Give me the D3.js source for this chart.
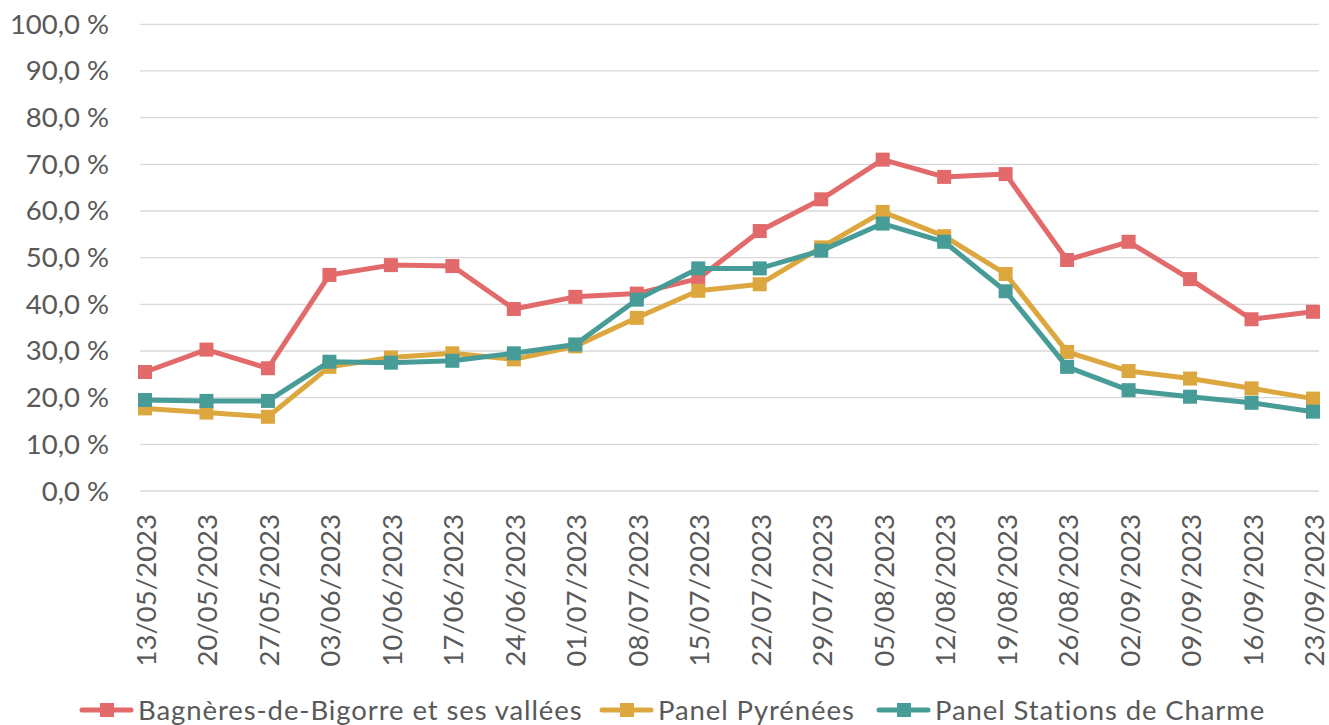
<!DOCTYPE html>
<html>
<head>
<meta charset="utf-8">
<script src="https://cdn.jsdelivr.net/npm/d3@7"></script>
<style>
  body { margin: 0; background: #fff; }
  text { font-family: Lato, "Open Sans", sans-serif; fill: #595959; }
</style>
</head>
<body>
<svg id="chart" width="1329" height="725"></svg>
<script>
// weekly dates (x categories)
const dates = ["13/05/2023","20/05/2023","27/05/2023","03/06/2023","10/06/2023","17/06/2023",
  "24/06/2023","01/07/2023","08/07/2023","15/07/2023","22/07/2023","29/07/2023","05/08/2023",
  "12/08/2023","19/08/2023","26/08/2023","02/09/2023","09/09/2023","16/09/2023","23/09/2023"]

const bagneres = [25.5,30.3,26.3,46.3,48.4,48.2,39.0,41.6,42.3,45.5,55.7,62.5,71.0,67.3,67.9,49.5,53.4,45.4,36.8,38.4]
const pyrenees = [17.7,16.8,15.9,26.6,28.6,29.5,28.2,31.0,37.1,42.9,44.3,52.2,59.8,54.6,46.5,29.8,25.7,24.1,22.0,19.8]
const charme   = [19.5,19.3,19.3,27.7,27.5,27.9,29.5,31.4,41.0,47.7,47.7,51.5,57.3,53.4,42.8,26.6,21.6,20.2,18.9,17.0]

const yTicks = [0,10,20,30,40,50,60,70,80,90,100]

const seriesNames = ["Bagnères-de-Bigorre et ses vallées","Panel Pyrénées","Panel Stations de Charme"]
const seriesColors = ["#e36a6a","#dda73f","#479c98"]
const seriesValues = [bagneres, pyrenees, charme]

const svg = d3.select("#chart")

const x = d3.scalePoint().domain(dates).range([145,1313])
const y = d3.scaleLinear().domain([0,100]).range([491,24.3])

// gridlines
svg.append("g").selectAll("line").data(yTicks).join("line")
  .attr("x1",140).attr("x2",1319)
  .attr("y1",d=>y(d)).attr("y2",d=>y(d))
  .attr("stroke","#d9d9d9").attr("stroke-width",1.3)

// y labels
svg.append("g").selectAll("text").data(yTicks).join("text")
  .attr("x",109).attr("y",d=>y(d)+9.5)
  .attr("text-anchor","end").attr("font-size",27.5)
  .text(d=>d3.format(".1f")(d).replace(".",",")+" %")

// x labels, rotated
svg.append("g").selectAll("text").data(dates).join("text")
  .attr("transform",d=>"translate("+(x(d)+11)+",514) rotate(-90)")
  .attr("text-anchor","end").attr("font-size",27.5)
  .text(d=>d)

const line = d3.line().x((d,i)=>x(dates[i])).y(d=>y(d))

for (var s = 0; s < seriesValues.length; s++) {
  const g = svg.append("g")
  g.append("path").datum(seriesValues[s])
    .attr("fill","none").attr("stroke",seriesColors[s])
    .attr("stroke-width",5).attr("stroke-linejoin","round")
    .attr("d",line)
  g.selectAll("rect").data(seriesValues[s]).join("rect")
    .attr("x",(d,i)=>x(dates[i])-7).attr("y",d=>y(d)-7)
    .attr("width",14).attr("height",14)
    .attr("fill",seriesColors[s])
}

// legend
const legendX = [80,600,877]
const legend = svg.append("g")
for (var s = 0; s < seriesNames.length; s++) {
  const lg = legend.append("g").attr("transform","translate("+legendX[s]+",710)")
  lg.append("line").attr("x1",2).attr("x2",51).attr("y1",0).attr("y2",0)
    .attr("stroke",seriesColors[s]).attr("stroke-width",5).attr("stroke-linecap","round")
  lg.append("rect").attr("x",20).attr("y",-7).attr("width",14).attr("height",14)
    .attr("fill",seriesColors[s])
  lg.append("text").attr("x",58).attr("y",9.5).attr("font-size",27.5)
    .attr("letter-spacing",0.9).text(seriesNames[s])
}
</script>
</body>
</html>
